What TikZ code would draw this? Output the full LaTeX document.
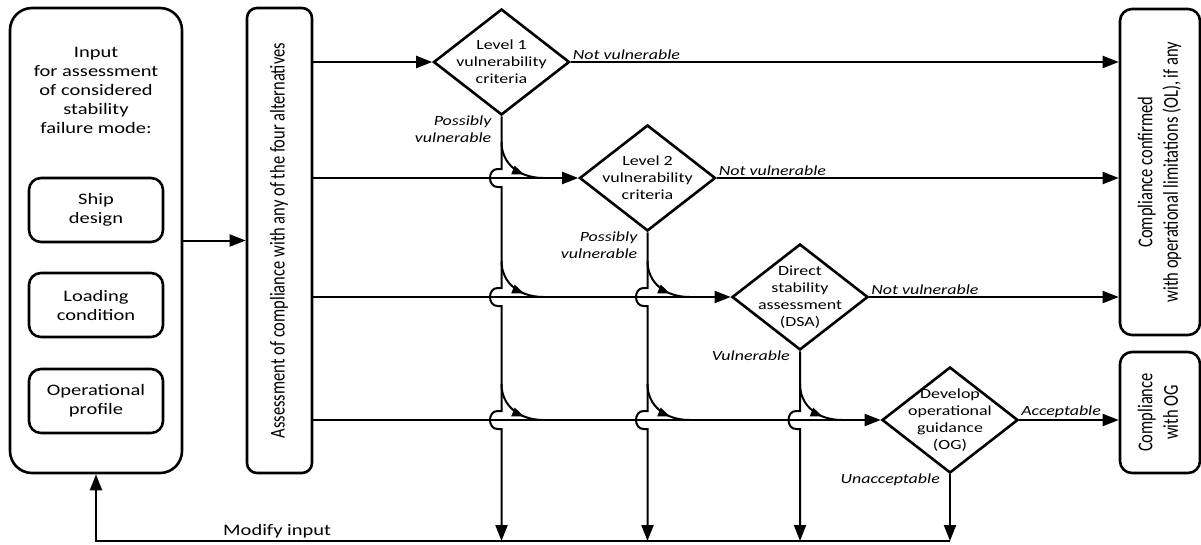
\documentclass[tikz,border=0pt]{standalone}
\usepackage{graphicx}
\usepackage{fontspec}
\setmainfont{Carlito}[FakeStretch=1.28]
\newfontfamily\rotfont{Carlito}
\usetikzlibrary{shapes.geometric,arrows.meta,decorations.markings,calc}

\tikzset{
  flow/.style={line width=2pt, -{Triangle[length=16pt,width=12pt]}},
  box/.style={draw, line width=2.6pt, rounded corners=12pt, inner sep=0pt},
  test/.style={draw, diamond, line width=2.6pt, minimum width=136pt, minimum height=106pt, inner sep=0pt},
  dtext/.style={align=center, font=\fontsize{14}{17}\selectfont},
  btext/.style={align=center, font=\fontsize{16}{19}\selectfont},
  lbl/.style={font=\fontsize{14}{17}\selectfont\itshape, inner sep=1pt},
  feed/.style={line width=2pt, decoration={markings,
      mark=at position 0.68 with {\arrow{Triangle[length=12pt,width=9pt]}}},
    postaction={decorate}},
}
% vertical line jumping over a row
\newcommand\hop[1]{-- ($(#1)+(0,-9)$) -- ++(-4,0)
  .. controls +(-10,0) and +(-10,0) .. ++(0,18) -- ++(4,0)}
% curved branch from a vertical line into a row
\newcommand\turnin[1]{\draw[feed] ($(#1)+(0,-36)$) .. controls +(0,22) and +(-24,0) .. ($(#1)+(42,0)$);}
\newcommand\vtext[1]{\rotatebox{90}{\scalebox{1}[1.28]{\rotfont\fontsize{16.5}{20}\selectfont
  \begin{tabular}{@{}c@{}}#1\end{tabular}}}}

\begin{document}
\begin{tikzpicture}[x=1pt,y=-1pt]
  \fill[white] (0,0) rectangle (1201,544);
  \useasboundingbox (0,0) rectangle (1201,544);

  % input
  \node[box, rounded corners=22pt, minimum width=172pt, minimum height=465pt] (inbox) at (96,240.5) {};
  \node[btext] (intitle) at (96,90.5) {Input\\for assessment\\of considered\\stability\\failure mode:};
  \node[box, btext, minimum width=134pt, minimum height=64pt] (ship) at (96,210) {Ship\\design};
  \node[box, btext, minimum width=134pt, minimum height=64pt] (loading) at (96,305) {Loading\\condition};
  \node[box, btext, minimum width=134pt, minimum height=64pt] (profile) at (96,401) {Operational\\profile};

  \node[box, rounded corners=10pt, minimum width=65pt, minimum height=465pt] (assess) at (279.5,240.5)
    {\vtext{Assessment of compliance with any of the four alternatives}};

  % checks
  \node[test, label={[dtext]center:Level 1\\vulnerability\\criteria}] (lv1) at (501.5,62) {};
  \node[test, label={[dtext]center:Level 2\\vulnerability\\criteria}] (lv2) at (647.5,178) {};
  \node[test, label={[dtext]center:Direct\\stability\\assessment\\(DSA)}] (dsa) at (800,297) {};
  \node[test, label={[dtext]center:Develop\\operational\\guidance\\(OG)}] (og) at (950,420) {};

  % results
  \node[box, minimum width=80pt, minimum height=326pt] (okbox) at (1160,172)
    {\vtext{Compliance confirmed\\with operational limitations (OL), if any}};
  \node[box, minimum width=80pt, minimum height=121pt] (ogbox) at (1160,412.5)
    {\vtext{Compliance\\with OG}};

  \coordinate (ret) at (inbox.south |- 0,541);

  \draw[flow] (inbox.east) -- (assess.west);
  \draw[flow] (assess.east |- lv1.west) -- (lv1.west);
  \draw[flow] (assess.east |- lv2.west) -- (lv2.west);
  \draw[flow] (assess.east |- dsa.west) -- (dsa.west);
  \draw[flow] (assess.east |- og.west) -- (og.west);

  \draw[flow] (lv1.east) -- node[lbl, pos=0, anchor=south west] (nv1) {Not vulnerable} (lv1.east -| okbox.west);
  \draw[flow] (lv2.east) -- node[lbl, pos=0, anchor=south west] (nv2) {Not vulnerable} (lv2.east -| okbox.west);
  \draw[flow] (dsa.east) -- node[lbl, pos=0, anchor=south west] (nv3) {Not vulnerable} (dsa.east -| okbox.west);
  \draw[flow] (og.east) -- node[lbl, pos=0, anchor=south west] (acc) {Acceptable} (og.east -| ogbox.west);

  \node[lbl, anchor=north east, align=right] (pv1) at ($(lv1.south)+(-9,-2)$) {Possibly\\vulnerable};
  \node[lbl, anchor=north east, align=right] (pv2) at ($(lv2.south)+(-9,-2)$) {Possibly\\vulnerable};
  \node[lbl, anchor=north east] (vul) at ($(dsa.south)+(-9,-2)$) {Vulnerable};
  \node[lbl, anchor=north east] (unacc) at ($(og.south)+(-9,-2)$) {Unacceptable};

  \draw[flow] (lv1.south) \hop{lv1.south |- lv2.west} \hop{lv1.south |- dsa.west} \hop{lv1.south |- og.west} -- (lv1.south |- ret);
  \draw[flow] (lv2.south) \hop{lv2.south |- dsa.west} \hop{lv2.south |- og.west} -- (lv2.south |- ret);
  \draw[flow] (dsa.south) \hop{dsa.south |- og.west} -- (dsa.south |- ret);
  \draw[flow] (og.south) -- (og.south |- ret);

  \turnin{lv1.south |- lv2.west}
  \turnin{lv1.south |- dsa.west}
  \turnin{lv1.south |- og.west}
  \turnin{lv2.south |- dsa.west}
  \turnin{lv2.south |- og.west}
  \turnin{dsa.south |- og.west}

  \draw[flow] (og.south |- ret) -- (ret) -- (inbox.south);
  \node[btext, anchor=base west, inner sep=0pt] (modify) at (223,535) {Modify input};
\end{tikzpicture}
\end{document}
